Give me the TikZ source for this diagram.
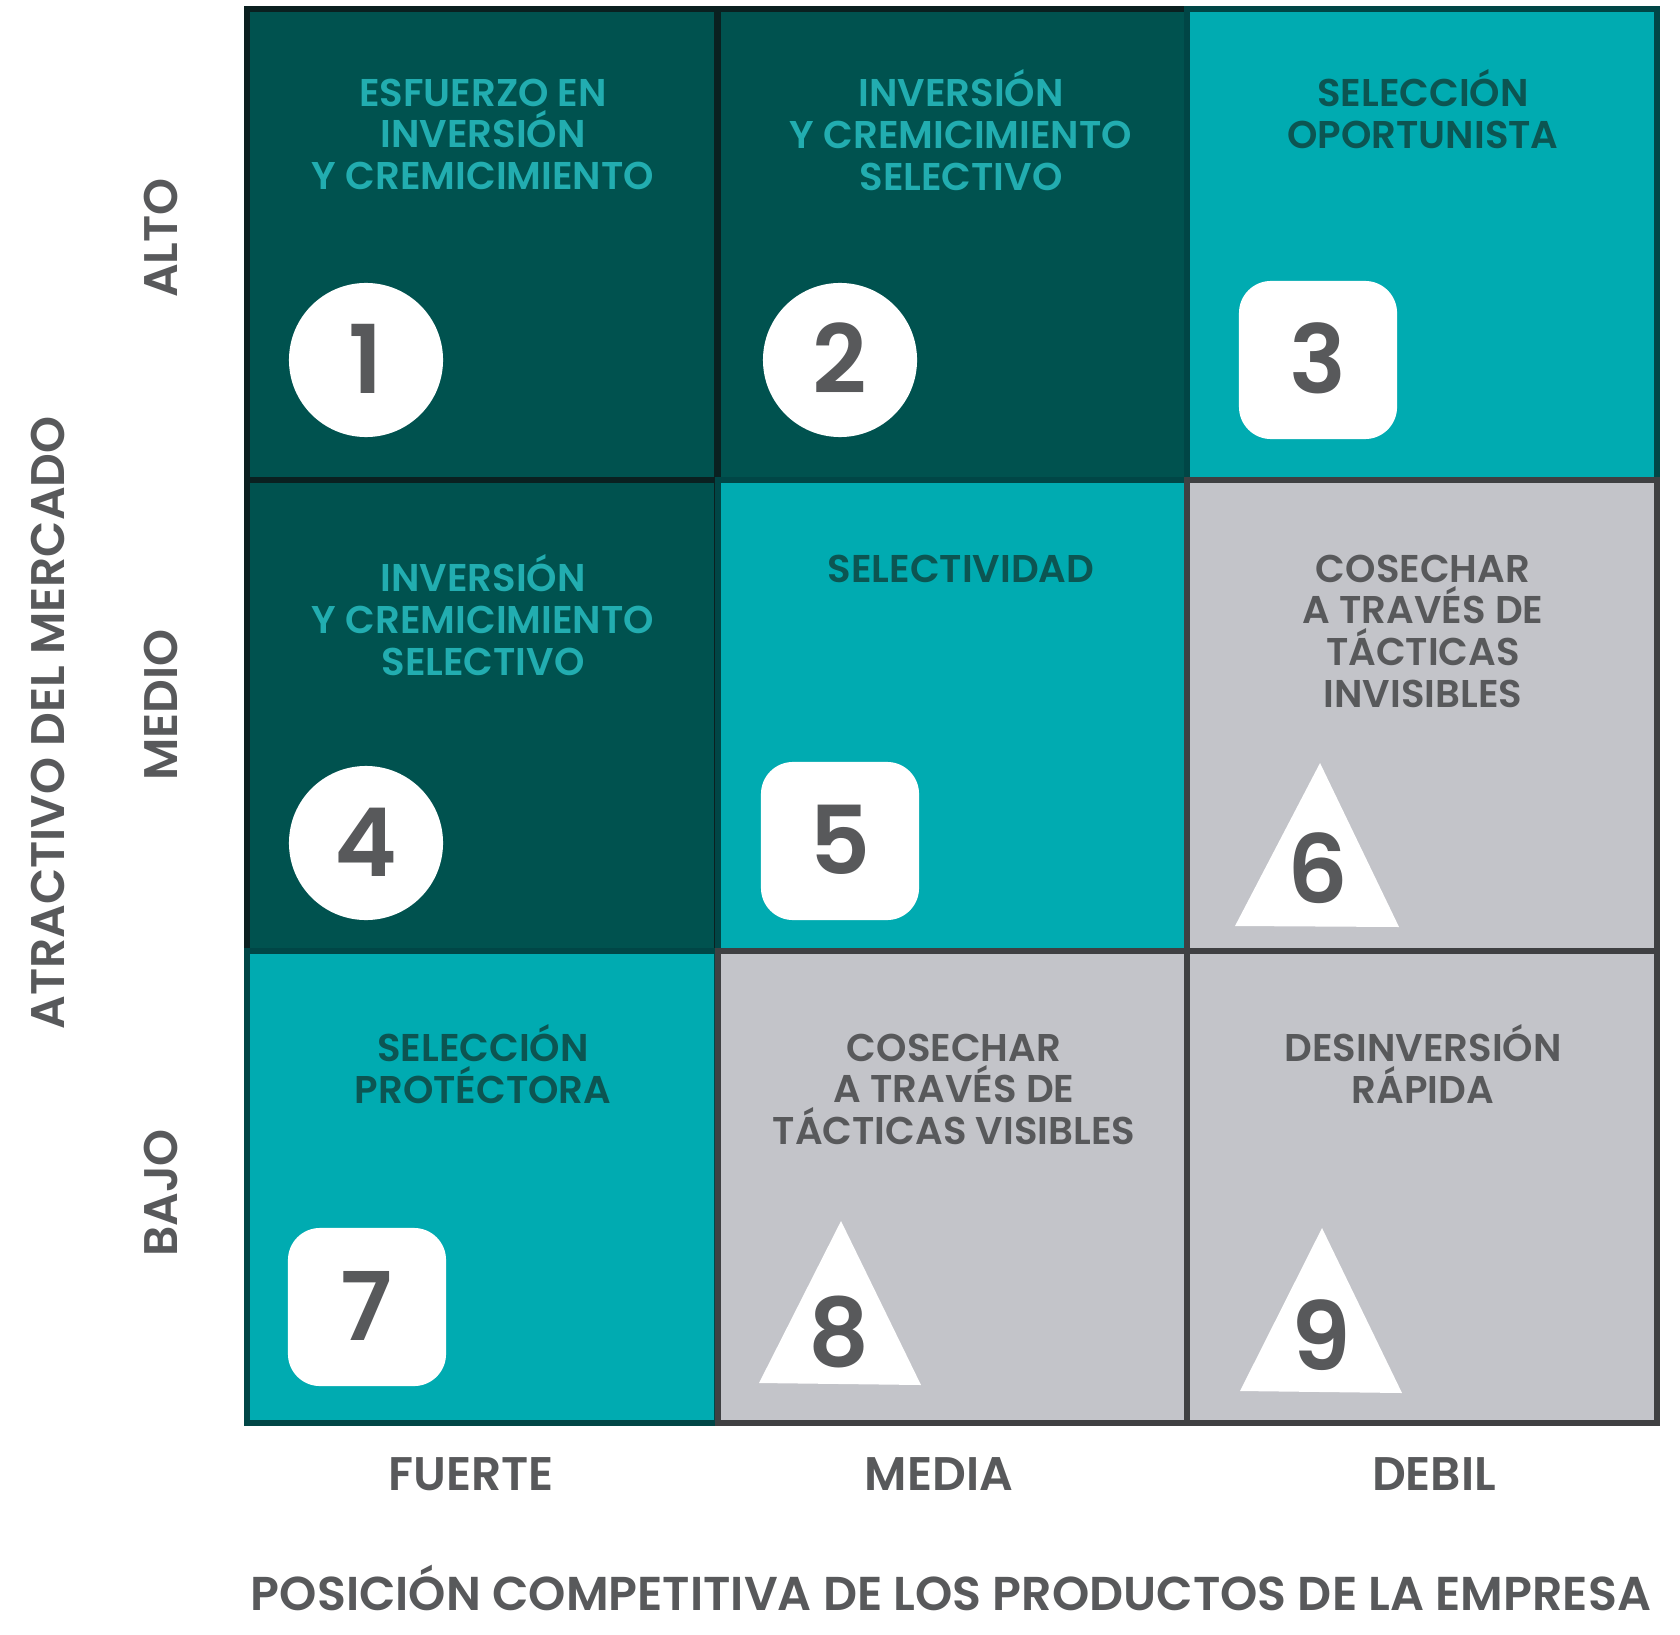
\documentclass[tikz,border=0pt]{standalone}
\usepackage{fontspec}
\setmainfont{Poppins}[BoldFont={Poppins SemiBold}]
\definecolor{cdark}{HTML}{00524F}
\definecolor{ccyan}{HTML}{00ABB1}
\definecolor{cgrey}{HTML}{C3C4C9}
\definecolor{ctext}{HTML}{58595B}
\definecolor{clight}{HTML}{22ADB0}
\definecolor{cdeep}{HTML}{0C5552}
\definecolor{edark}{HTML}{0A2020}
\definecolor{ecyan}{HTML}{004646}
\definecolor{egrey}{HTML}{3F4042}
\tikzset{
  every picture/.style={font=\bfseries},
  cell/.style 2 args={fill=#1, draw=#2, line width=0.06cm, minimum width=4.70cm, minimum height=4.71cm, inner sep=0pt},
  caption/.style={text=#1, font=\fontsize{11}{11.9}\selectfont\bfseries, align=center, anchor=north, inner sep=0pt},
  axis/.style={text=ctext, font=\fontsize{13.4}{15}\selectfont\bfseries, text height=9.4pt, text depth=0pt, inner sep=0pt},
  num/.style={text=ctext, font=\fontsize{27}{27}\selectfont\bfseries, text height=18.9pt, text depth=0pt, inner sep=0pt},
}

\begin{document}
\begin{tikzpicture}[x=0.01cm, y=-0.01cm,
  circ/.style={num, circle, fill=white, minimum size=1.54cm},
  sq/.style={num, rectangle, rounded corners=0.32cm, fill=white, minimum size=1.58cm}]
  \useasboundingbox (0,0) rectangle (1680,1634);
  % the nine cells
  \node[cell={cdark}{edark}] (c1) at (482,245) {};
  \node[cell={cdark}{edark}] (c2) at (953,245) {};
  \node[cell={ccyan}{ecyan}] (c3) at (1422,245) {};
  \node[cell={cdark}{edark}] (c4) at (482,716) {};
  \node[cell={ccyan}{ecyan}] (c5) at (953,716) {};
  \node[cell={cgrey}{egrey}] (c6) at (1422,716) {};
  \node[cell={ccyan}{ecyan}] (c7) at (482,1187) {};
  \node[cell={cgrey}{egrey}] (c8) at (953,1187) {};
  \node[cell={cgrey}{egrey}] (c9) at (1422,1187) {};
  % strategies
  \node[caption=clight] (t1) at (483,78) {ESFUERZO EN\\INVERSIÓN\\Y CREMICIMIENTO};
  \node[caption=clight] (t2) at (961,69) {INVERSIÓN\\Y CREMICIMIENTO\\SELECTIVO};
  \node[caption=cdeep]  (t3) at (1423,69) {SELECCIÓN\\OPORTUNISTA};
  \node[caption=clight] (t4) at (483,554) {INVERSIÓN\\Y CREMICIMIENTO\\SELECTIVO};
  \node[caption=cdeep]  (t5) at (961,554) {SELECTIVIDAD};
  \node[caption=ctext]  (t6) at (1423,554) {COSECHAR\\A TRAVÉS DE\\TÁCTICAS\\INVISIBLES};
  \node[caption=cdeep]  (t7) at (483,1024) {SELECCIÓN\\PROTÉCTORA};
  \node[caption=ctext]  (t8) at (954,1033) {COSECHAR\\A TRAVÉS DE\\TÁCTICAS VISIBLES};
  \node[caption=ctext]  (t9) at (1423,1024) {DESINVERSIÓN\\RÁPIDA};
  % badges
  \node[circ] (n1) at (366,360) {1};
  \node[circ] (n2) at (840,360) {2};
  \node[sq]   (n3) at (1318,360) {3};
  \node[circ] (n4) at (366,843) {4};
  \node[sq]   (n5) at (840,841) {5};
  \node[sq]   (n7) at (367,1307) {7};
  \fill[white] (1320,763) -- (1235,926) -- (1399,927) -- cycle;
  \fill[white] (841,1221) -- (759,1383) -- (921,1385) -- cycle;
  \fill[white] (1322,1228) -- (1240,1391) -- (1402,1393) -- cycle;
  \node[num] (n6) at (1318,870) {6};
  \node[num] (n8) at (839,1333) {8};
  \node[num] (n9) at (1321,1337) {9};
  % axes
  \node[axis, rotate=90] (alto)  at (161,238)  {ALTO};
  \node[axis, rotate=90] (medio) at (161,705)  {MEDIO};
  \node[axis, rotate=90] (bajo)  at (161,1193) {BAJO};
  \node[axis, rotate=90] (ytitle) at (48,723) {ATRACTIVO DEL MERCADO};
  \node[axis] (fuerte) at (471,1474)  {FUERTE};
  \node[axis] (media)  at (939,1474)  {MEDIA};
  \node[axis] (debil)  at (1434,1474) {DEBIL};
  \node[axis, font=\fontsize{13.5}{15}\selectfont\bfseries] (xtitle) at (951,1594) {POSICIÓN COMPETITIVA DE LOS PRODUCTOS DE LA EMPRESA};
\end{tikzpicture}
\end{document}
